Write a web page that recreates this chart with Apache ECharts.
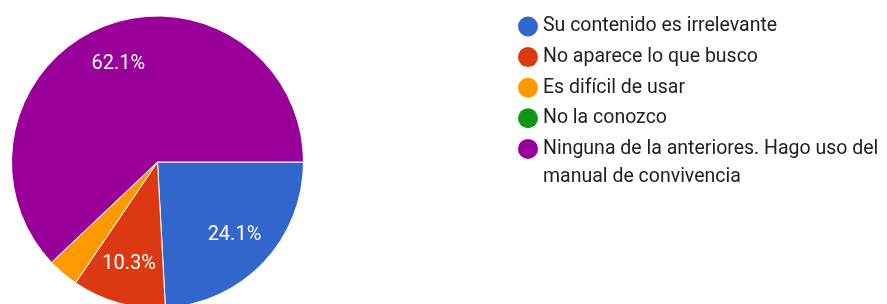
<!DOCTYPE html>
<html>
<head>
<meta charset="utf-8">
<script src="https://cdn.jsdelivr.net/npm/echarts@6/dist/echarts.min.js"></script>
<style>
  html, body { margin: 0; padding: 0; background: #fff; }
  #chart { width: 887px; height: 304px; }
</style>
</head>
<body>
<div id="chart"></div>
<script>
var categories = ['Su contenido es irrelevante', 'No aparece lo que busco', 'Es difícil de usar', 'No la conozco', 'Ninguna de la anteriores. Hago uso del manual de convivencia'];
var counts = [7, 3, 1, 0, 18];
var colors = ['#3366cc', '#dc3912', '#ff9900', '#109618', '#990099'];
// the long legend entry wraps after "del"
var wrapAfter = 'Ninguna de la anteriores. Hago uso del';

var total = counts.reduce(function (a, b) { return a + b; }, 0);
var pieData = categories.map(function (name, i) {
    return { name: name, value: counts[i], itemStyle: { color: colors[i] } };
});
var labelData = categories.map(function (name, i) {
    return {
        name: name, value: counts[i],
        label: { show: counts[i] / total >= 0.05 }
    };
});

var myChart = echarts.init(document.getElementById('chart'));
var option = {
    animation: false,
    color: colors,
    legend: {
        orient: 'vertical',
        left: 518,
        top: 16.5,
        padding: 0,
        icon: 'circle',
        itemWidth: 20,
        itemHeight: 20,
        itemGap: 10.6,
        itemStyle: { borderWidth: 0 },
        data: categories,
        formatter: function (name) {
            return name.indexOf(wrapAfter) === 0 ? wrapAfter : name;
        },
        textStyle: {
            fontFamily: 'Roboto',
            fontSize: 19.5,
            lineHeight: 20,
            color: '#212121'
        }
    },
    graphic: [{
        type: 'text',
        left: 543,
        top: 167,
        style: {
            text: categories[4].slice(wrapAfter.length + 1),
            font: '19.5px Roboto',
            fill: '#212121'
        }
    }],
    series: [
        {
            name: 'respuestas',
            type: 'pie',
            center: [157.5, 162],
            radius: 146,
            startAngle: 0,
            clockwise: true,
            label: { show: false },
            labelLine: { show: false },
            itemStyle: { borderColor: '#fff', borderWidth: 1 },
            data: pieData
        },
        {
            name: 'etiquetas',
            type: 'pie',
            silent: true,
            center: [157.5, 162],
            radius: [60, 146],
            startAngle: 0,
            clockwise: true,
            itemStyle: { color: 'rgba(0,0,0,0)' },
            labelLine: { show: false },
            label: {
                position: 'inside',
                color: '#fff',
                fontFamily: 'Roboto',
                fontSize: 20,
                formatter: function (p) {
                    return (p.value / total * 100).toFixed(1) + '%';
                }
            },
            data: labelData
        }
    ]
};
myChart.setOption(option);
</script>
</body>
</html>
